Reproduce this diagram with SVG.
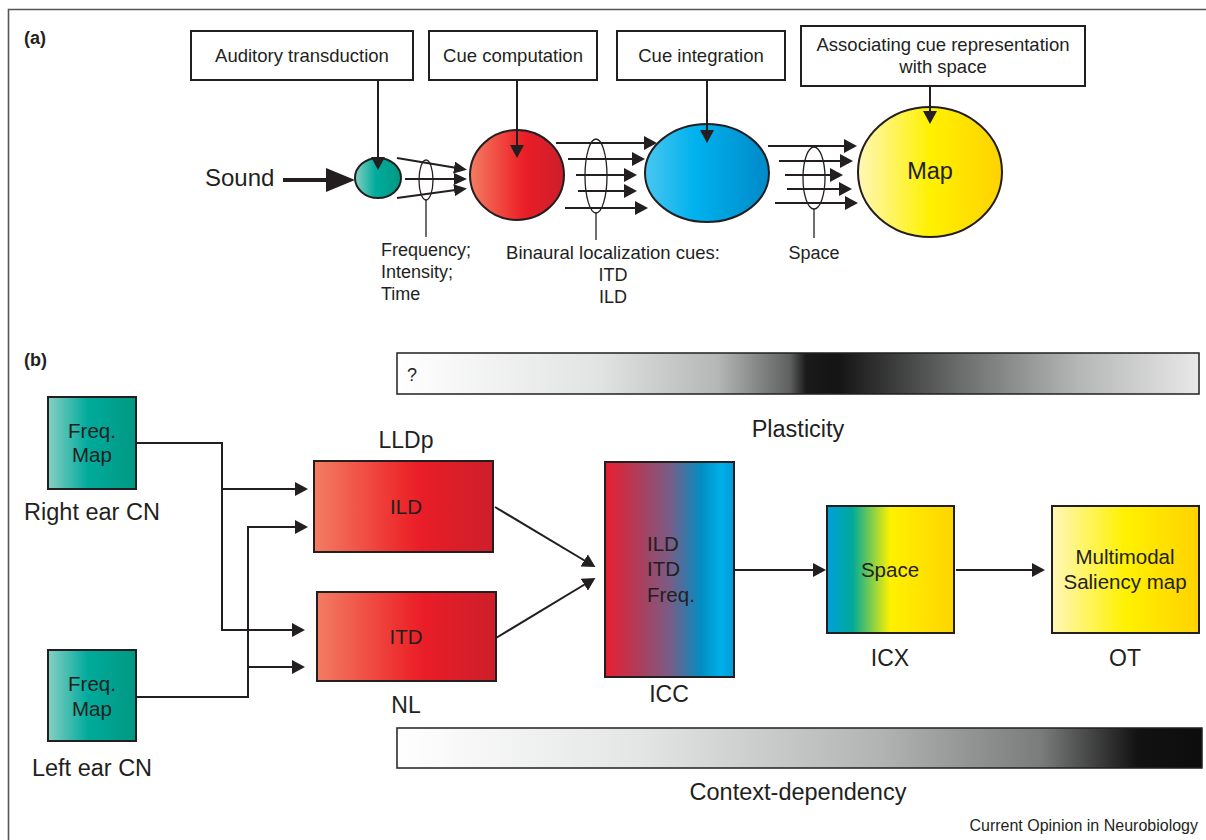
<svg xmlns="http://www.w3.org/2000/svg" width="1206" height="840" viewBox="0 0 1206 840">
<defs>
<style>
text{font-family:"Liberation Sans",Arial,sans-serif;fill:#231f20}
.bx{fill:#fff;stroke:#231f20;stroke-width:2}
.nd{stroke:#231f20;stroke-width:2}
.ln{fill:none;stroke:#231f20;stroke-width:2}
.thin{fill:none;stroke:#231f20;stroke-width:1.3}
.t18{font-size:18.5px}
.t17{font-size:18px}
.t20{font-size:20.5px}
.t22{font-size:23px}
.t24{font-size:23.5px}
.mid{text-anchor:middle}
</style>
<marker id="ah" markerUnits="userSpaceOnUse" markerWidth="14" markerHeight="14" refX="9" refY="7" orient="auto"><path d="M0,0 L13,7 L0,14 z" fill="#231f20"/></marker>
<marker id="ahs" markerUnits="userSpaceOnUse" markerWidth="14" markerHeight="14" refX="9" refY="6" orient="auto"><path d="M0,0 L13,6 L0,12 z" fill="#231f20"/></marker>
<marker id="ahb" markerUnits="userSpaceOnUse" markerWidth="30" markerHeight="26" refX="24" refY="12" orient="auto"><path d="M0,0 L29,12 L0,24 z" fill="#231f20"/></marker>
<linearGradient id="gTeal" x1="0" x2="1" y1="0" y2="0"><stop offset="0" stop-color="#86cfc3"/><stop offset="0.45" stop-color="#00ab9c"/><stop offset="1" stop-color="#009882"/></linearGradient>
<linearGradient id="gRed" x1="0" x2="1" y1="0" y2="0"><stop offset="0" stop-color="#f37d62"/><stop offset="0.5" stop-color="#ed2a2c"/><stop offset="0.6" stop-color="#e91d27"/><stop offset="1" stop-color="#cc1f2a"/></linearGradient>
<linearGradient id="gBlue" x1="0" x2="1" y1="0" y2="0"><stop offset="0" stop-color="#4ac6f0"/><stop offset="0.4" stop-color="#00b2ee"/><stop offset="1" stop-color="#0089c8"/></linearGradient>
<linearGradient id="gYel" x1="0" x2="1" y1="0" y2="0"><stop offset="0" stop-color="#fff7b8"/><stop offset="0.5" stop-color="#fff100"/><stop offset="1" stop-color="#ffd200"/></linearGradient>
<linearGradient id="gIcc" x1="0" x2="1" y1="0" y2="0"><stop offset="0" stop-color="#e81f30"/><stop offset="0.25" stop-color="#b03c58"/><stop offset="0.5" stop-color="#7a5c85"/><stop offset="0.75" stop-color="#008ec4"/><stop offset="0.9" stop-color="#00b0ea"/><stop offset="1" stop-color="#009ad6"/></linearGradient>
<linearGradient id="gIcx" x1="0" x2="1" y1="0" y2="0"><stop offset="0" stop-color="#00a0dc"/><stop offset="0.2" stop-color="#00aa98"/><stop offset="0.5" stop-color="#fff100"/><stop offset="1" stop-color="#ffd400"/></linearGradient>
<linearGradient id="gPlas" x1="0" x2="1" y1="0" y2="0"><stop offset="0" stop-color="#ffffff"/><stop offset="0.25" stop-color="#e2e3e3"/><stop offset="0.4" stop-color="#b5b7b7"/><stop offset="0.49" stop-color="#5f6060"/><stop offset="0.51" stop-color="#1a1a1a"/><stop offset="0.55" stop-color="#141414"/><stop offset="0.7" stop-color="#6a6b6b"/><stop offset="0.85" stop-color="#b5b6b6"/><stop offset="1" stop-color="#e8e8e8"/></linearGradient>
<linearGradient id="gCtx" x1="0" x2="1" y1="0" y2="0"><stop offset="0" stop-color="#ffffff"/><stop offset="0.3" stop-color="#e4e5e5"/><stop offset="0.6" stop-color="#b2b4b4"/><stop offset="0.8" stop-color="#7a7b7b"/><stop offset="0.92" stop-color="#121212"/><stop offset="1" stop-color="#0d0d0d"/></linearGradient>
</defs>
<rect width="1206" height="840" fill="#fff"/>
<path d="M8.5,842 V9.5 H1208" fill="none" stroke="#555" stroke-width="1.6"/>

<text x="24" y="44" style="font-size:18px;font-weight:bold">(a)</text>
<text x="24" y="366" style="font-size:18px;font-weight:bold">(b)</text>

<g id="box-transduction"><rect class="bx" x="191" y="31" width="222" height="49"/><text class="t18 mid" x="302" y="62">Auditory transduction</text></g>
<g id="box-computation"><rect class="bx" x="429" y="31" width="168" height="49"/><text class="t18 mid" x="513" y="62">Cue computation</text></g>
<g id="box-integration"><rect class="bx" x="617" y="31" width="168" height="49"/><text class="t18 mid" x="701" y="62">Cue integration</text></g>
<g id="box-associating"><rect class="bx" x="801" y="26" width="284" height="60"/><text class="t18 mid" x="943" y="51">Associating cue representation</text><text class="t18 mid" x="943" y="73">with space</text></g>

<g id="sound"><text x="205" y="186" style="font-size:24px">Sound</text></g>
<g id="c-teal"><ellipse class="nd" cx="378" cy="178" rx="23" ry="20" fill="url(#gTeal)"/></g>
<g id="c-red"><ellipse class="nd" cx="517" cy="175" rx="47" ry="45" fill="url(#gRed)"/></g>
<g id="c-blue"><ellipse class="nd" cx="707" cy="173" rx="62" ry="49" fill="url(#gBlue)"/></g>
<g id="c-map"><ellipse class="nd" cx="930" cy="172" rx="72" ry="65" fill="url(#gYel)"/><text class="mid" x="930" y="179" style="font-size:23.5px">Map</text></g>

<g id="lbl-freq"><text class="t17" x="381" y="256">Frequency;</text><text class="t17" x="381" y="278">Intensity;</text><text class="t17" x="381" y="300">Time</text></g>
<g id="lbl-binaural"><text class="t17 mid" x="613" y="259" style="font-size:18.5px">Binaural localization cues:</text><text class="t17 mid" x="613" y="281">ITD</text><text class="t17 mid" x="613" y="303">ILD</text></g>
<g id="lbl-space"><text class="t17 mid" x="814" y="259">Space</text></g>

<g id="bar-plasticity"><rect x="397" y="353" width="802" height="41" fill="url(#gPlas)" stroke="#231f20" stroke-width="1.5"/><text x="407" y="381" style="font-size:18px">?</text><text class="t24 mid" x="798" y="437">Plasticity</text></g>
<g id="bar-context"><rect x="397" y="728" width="805" height="40" fill="url(#gCtx)" stroke="#231f20" stroke-width="1.5"/><text class="t24 mid" x="798" y="800">Context-dependency</text></g>

<g id="cn-right"><rect class="nd" x="48" y="397" width="88" height="92" fill="url(#gTeal)"/><text class="t20 mid" x="92" y="438">Freq.</text><text class="t20 mid" x="92" y="462">Map</text><text class="t24 mid" x="92" y="520">Right ear CN</text></g>
<g id="cn-left"><rect class="nd" x="48" y="650" width="88" height="91" fill="url(#gTeal)"/><text class="t20 mid" x="92" y="691">Freq.</text><text class="t20 mid" x="92" y="716">Map</text><text class="t24 mid" x="92" y="776">Left ear CN</text></g>
<g id="lldp"><rect class="nd" x="314" y="461" width="179" height="91" fill="url(#gRed)"/><text class="t20 mid" x="406" y="514">ILD</text><text class="t22 mid" x="406" y="448">LLDp</text></g>
<g id="nl"><rect class="nd" x="317" y="592" width="179" height="89" fill="url(#gRed)"/><text class="t20 mid" x="406" y="644">ITD</text><text class="t22 mid" x="406" y="713">NL</text></g>
<g id="icc"><rect class="nd" x="605" y="462" width="129" height="215" fill="url(#gIcc)"/><text class="t20" x="647" y="551">ILD</text><text class="t20" x="647" y="576">ITD</text><text class="t20" x="647" y="602">Freq.</text><text class="t22 mid" x="669" y="702">ICC</text></g>
<g id="icx"><rect class="nd" x="827" y="506" width="127" height="127" fill="url(#gIcx)"/><text class="t20 mid" x="890" y="577">Space</text><text class="t22 mid" x="890" y="666">ICX</text></g>
<g id="ot"><rect class="nd" x="1052" y="506" width="147" height="127" fill="url(#gYel)"/><text class="t20 mid" x="1125" y="564">Multimodal</text><text class="t20 mid" x="1125" y="589">Saliency map</text><text class="t22 mid" x="1125" y="666">OT</text></g>

<g id="connectors">
<line class="ln" x1="378" y1="80" x2="378" y2="166" marker-end="url(#ah)"/>
<line class="ln" x1="517" y1="80" x2="517" y2="154" marker-end="url(#ah)"/>
<line class="ln" x1="707" y1="80" x2="707" y2="139" marker-end="url(#ah)"/>
<line class="ln" x1="930" y1="86" x2="930" y2="120" marker-end="url(#ah)"/>
<line x1="283" y1="180" x2="350" y2="180" stroke="#231f20" stroke-width="4" marker-end="url(#ahb)"/>
<line class="ln" x1="397" y1="158" x2="463" y2="169" marker-end="url(#ahs)"/>
<line class="ln" x1="405" y1="179" x2="463" y2="179" marker-end="url(#ahs)"/>
<line class="ln" x1="397" y1="198" x2="463" y2="189" marker-end="url(#ahs)"/>
<ellipse class="thin" cx="426" cy="180" rx="7" ry="20"/>
<line class="thin" x1="426" y1="200" x2="426" y2="237"/>
<line class="ln" x1="556" y1="143" x2="653" y2="143" marker-end="url(#ah)"/>
<line class="ln" x1="568" y1="159" x2="641" y2="159" marker-end="url(#ah)"/>
<line class="ln" x1="576" y1="175" x2="633" y2="175" marker-end="url(#ah)"/>
<line class="ln" x1="578" y1="191" x2="633" y2="191" marker-end="url(#ah)"/>
<line class="ln" x1="565" y1="208" x2="644" y2="208" marker-end="url(#ah)"/>
<ellipse class="thin" cx="596" cy="176" rx="11" ry="37"/>
<line class="thin" x1="596" y1="213" x2="596" y2="240"/>
<line class="ln" x1="768" y1="146" x2="853" y2="146" marker-end="url(#ah)"/>
<line class="ln" x1="779" y1="161" x2="849" y2="161" marker-end="url(#ah)"/>
<line class="ln" x1="785" y1="175" x2="839" y2="175" marker-end="url(#ah)"/>
<line class="ln" x1="787" y1="189" x2="848" y2="189" marker-end="url(#ah)"/>
<line class="ln" x1="775" y1="203" x2="854" y2="203" marker-end="url(#ah)"/>
<ellipse class="thin" cx="814" cy="178" rx="11" ry="31"/>
<line class="thin" x1="814" y1="209" x2="814" y2="238"/>
<polyline class="ln" points="136,443 222,443 222,630 301,630" marker-end="url(#ah)"/>
<line class="ln" x1="222" y1="489" x2="304" y2="489" marker-end="url(#ah)"/>
<polyline class="ln" points="136,697 248,697 248,527 304,527" marker-end="url(#ah)"/>
<line class="ln" x1="248" y1="667" x2="301" y2="667" marker-end="url(#ah)"/>
<line class="ln" x1="495" y1="507" x2="592" y2="565" marker-end="url(#ah)"/>
<line class="ln" x1="496" y1="638" x2="592" y2="580" marker-end="url(#ah)"/>
<line class="ln" x1="734" y1="570" x2="822" y2="570" marker-end="url(#ah)"/>
<line class="ln" x1="956" y1="570" x2="1041" y2="570" marker-end="url(#ah)"/>
</g>

<text x="1198" y="831" style="font-size:16px;text-anchor:end">Current Opinion in Neurobiology</text>
</svg>
